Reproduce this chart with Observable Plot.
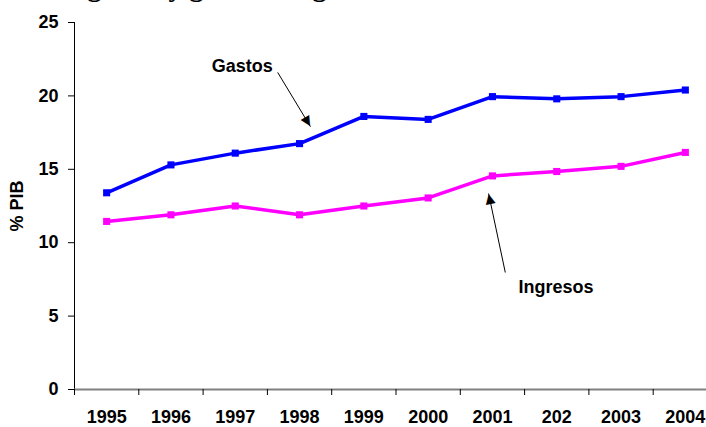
<!DOCTYPE html>
<html><head><meta charset="utf-8">
<script src="https://cdn.jsdelivr.net/npm/d3@7"></script>
<script src="https://cdn.jsdelivr.net/npm/@observablehq/plot@0.6"></script>
<style>
html,body{margin:0;padding:0;background:#fff;overflow:hidden;width:706px;height:427px;}
#wrap{position:relative;width:706px;height:427px;overflow:hidden;}
#title{position:absolute;left:61px;top:-27px;font:bold 28px "Liberation Serif","Times New Roman",serif;line-height:28px;white-space:nowrap;z-index:2;color:#000;}
#chart{position:absolute;left:0;top:0;}
</style></head><body>
<div id="wrap"><div id="title">Ingresos y gastos del gobierno</div><div id="chart"></div></div>
<script>
// ---- data ----
const years = ["1995","1996","1997","1998","1999","2000","2001","202","2003","2004"];
const gastos = [13.4, 15.3, 16.1, 16.75, 18.6, 18.4, 19.95, 19.8, 19.95, 20.4];
const ingresos = [11.45, 11.9, 12.5, 11.9, 12.5, 13.05, 14.55, 14.85, 15.2, 16.15];
const yTicks = [0, 5, 10, 15, 20, 25];
const yLabel = "% PIB";
// annotations (x in year-slot units, y in % PIB)
const annLabels = ["Gastos", "Ingresos"];
const annLabelX = [2.61, 7.49];
const annLabelY = [22.0, 6.97];
const annFromX = [3.16, 6.70];
const annFromY = [21.6, 7.97];
const annToX = [3.67, 6.44];
const annToY = [17.9, 13.35];

// ---- layout ----
const XR = [74, 717], YR = [389, 22];
const XD = [0, years.length], YD = [0, 25];
const px = v => XR[0] + (v - XD[0]) / (XD[1] - XD[0]) * (XR[1] - XR[0]);
const py = v => YR[0] + (v - YD[0]) / (YD[1] - YD[0]) * (YR[1] - YR[0]);
const tickLen = 6 * (YD[1] - YD[0]) / (YR[0] - YR[1]);

const rowsG = years.map((y, i) => ({x: i + 0.5, v: gastos[i]}));
const rowsI = years.map((y, i) => ({x: i + 0.5, v: ingresos[i]}));
const arrows = annLabels.map((l, i) => {
  const dx = px(annToX[i]) - px(annFromX[i]);
  const dy = py(annToY[i]) - py(annFromY[i]);
  return {x1: annFromX[i], y1: annFromY[i], x2: annToX[i], y2: annToY[i],
          angle: Math.atan2(dx, -dy) * 180 / Math.PI};
});
const labelsRows = annLabels.map((l, i) => ({t: l, x: annLabelX[i], y: annLabelY[i]}));

const chart = Plot.plot({
  width: 706, height: 427,
  marginTop: 22, marginBottom: 38, marginLeft: 74, marginRight: 0,
  style: {fontFamily: '"Liberation Sans", Arial, sans-serif', fontSize: "18px", fontWeight: "bold", color: "#000", background: "#fff", overflow: "hidden"},
  x: {type: "linear", domain: XD, range: XR, axis: null},
  y: {domain: YD, range: YR, ticks: yTicks, tickSize: 6, tickPadding: 10, line: true, label: null},
  marks: [
    Plot.ruleY([0], {x1: XD[0], x2: XD[1], stroke: "#808080", strokeWidth: 2}),
    Plot.ruleX(d3.range(years.length), {x: d => d, y1: 0, y2: -tickLen, stroke: "#000", strokeWidth: 1}),
    Plot.text(years, {x: (d, i) => i + 0.5, y: 0, dy: 28, text: d => d}),
    Plot.text([yLabel], {frameAnchor: "left", dx: -57, rotate: -90, textAnchor: "middle", text: d => d}),
    Plot.line(rowsI, {x: "x", y: "v", stroke: "#ff00ff", strokeWidth: 3.5}),
    Plot.dot(rowsI, {x: "x", y: "v", symbol: "square", r: 4, fill: "#ff00ff"}),
    Plot.line(rowsG, {x: "x", y: "v", stroke: "#0000ff", strokeWidth: 3.5}),
    Plot.dot(rowsG, {x: "x", y: "v", symbol: "square", r: 4, fill: "#0000ff"}),
    Plot.link(arrows, {x1: "x1", y1: "y1", x2: "x2", y2: "y2", stroke: "#000", strokeWidth: 1}),
    Plot.text(arrows, {x: "x2", y: "y2", text: () => "\u25B2", rotate: "angle", lineAnchor: "top", fontSize: 13, fontFamily: "DejaVu Sans", fill: "#000"}),
    Plot.text(labelsRows, {x: "x", y: "y", text: "t", fill: "#000"})
  ]
});
document.getElementById("chart").appendChild(chart);
</script>
</body></html>
